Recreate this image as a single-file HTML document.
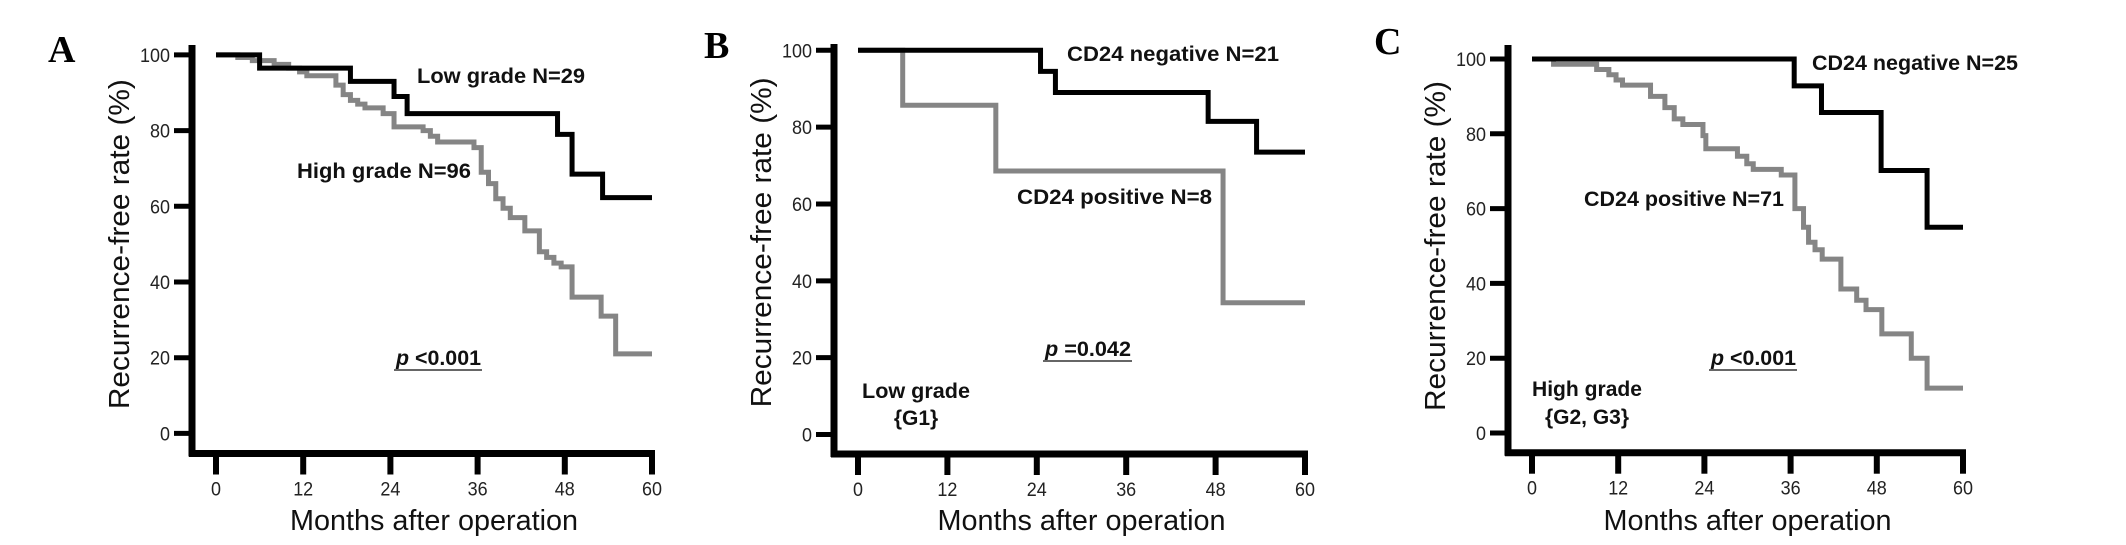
<!DOCTYPE html>
<html><head><meta charset="utf-8">
<style>
html,body{margin:0;padding:0;background:#fff;overflow:hidden;}
svg{display:block;}
text{font-family:"Liberation Sans",Arial,sans-serif;}
</style></head>
<body>
<svg id="fig" width="2126" height="545" viewBox="0 0 2126 545" xmlns="http://www.w3.org/2000/svg"></svg>
<script>
// ---- data ----
const xTicks = [0, 12, 24, 36, 48, 60];
const yTicks = [0, 20, 40, 60, 80, 100];
// Panel A
const aLowMonths  = [0, 6, 18.5, 24.5, 26.3, 47, 49, 53.2, 60];
const aLowRate    = [100, 96.5, 93, 89, 84.5, 79, 68.5, 62.3, 62.3];
const aHighMonths = [0, 3, 5, 8, 10, 11.5, 12.5, 16.5, 17.5, 18.5, 19.5, 20.5, 23, 24.5, 28.5, 29.5, 30.5, 35.5, 36.5, 37.5, 38.5, 39.5, 40.5, 42.5, 44.5, 45.5, 46.5, 47.5, 49, 53, 55, 60];
const aHighRate   = [100, 99.3, 98.5, 97.5, 96.5, 95.5, 94.5, 92, 89.5, 88, 87, 86, 84.5, 81, 80, 78.5, 77, 75.5, 69, 66, 62, 59.5, 57, 53.5, 48, 46.5, 45, 44, 36, 31, 21, 21];
// Panel B
const bNegMonths = [0, 24.5, 26.5, 47, 53.5, 60];
const bNegRate   = [100, 94.5, 89, 81.5, 73.5, 73.5];
const bPosMonths = [0, 6, 18.5, 49, 60];
const bPosRate   = [100, 85.7, 68.6, 34.3, 34.3];
// Panel C
const cNegMonths = [0, 36.5, 40.3, 48.6, 55, 60];
const cNegRate   = [100, 92.8, 85.7, 70.2, 55, 55];
const cPosMonths = [0, 1, 3, 9, 10.7, 11.7, 12.6, 16.5, 18.5, 19.8, 21, 23.8, 24.2, 28.6, 29.9, 30.8, 34.7, 36.6, 37.8, 38.5, 39.4, 40.4, 43, 45.2, 46.5, 48.7, 52.8, 55, 60];
const cPosRate   = [100, 100, 98.6, 97.2, 95.8, 94.4, 93, 90, 87, 84, 82.5, 79.5, 76, 74, 72, 70.5, 69, 60, 55, 51, 49, 46.5, 38.5, 35.5, 33, 26.5, 20, 12, 12];

const NS = "http://www.w3.org/2000/svg";
const svg = document.getElementById('fig');
function mk(tag, attrs, parent) {
  const e = document.createElementNS(NS, tag);
  for (const k in attrs) e.setAttribute(k, attrs[k]);
  (parent || svg).appendChild(e);
  return e;
}
function txt(s, attrs, parent) { const t = mk('text', attrs, parent); t.textContent = s; return t; }

const panels = [
  {id:'a', letter:'A', lx:48, ly:62, axX:192, x0:216, x1:652, y100:54.9, y0:433.4, axY:453.5, yTop:45,
   series:[{m:aHighMonths, r:aHighRate, c:'#858585', n:'high-grade-curve'},{m:aLowMonths, r:aLowRate, c:'#000', n:'low-grade-curve'}],
   notes:[{s:'Low grade  N=29', x:417, y:83, w:168, n:'low-grade-label'},{s:'High grade  N=96', x:297, y:178, w:174, n:'high-grade-label'}],
   p:{s:'p', rest:' <0.001', x:396, y:365, w:85}, sub:null},
  {id:'b', letter:'B', lx:704, ly:58, axX:834, x0:858, x1:1305, y100:50.3, y0:434.5, axY:454, yTop:44,
   series:[{m:bPosMonths, r:bPosRate, c:'#858585', n:'cd24-positive-curve'},{m:bNegMonths, r:bNegRate, c:'#000', n:'cd24-negative-curve'}],
   notes:[{s:'CD24 negative  N=21', x:1067, y:61, w:212, n:'cd24-negative-label'},{s:'CD24 positive  N=8', x:1017, y:204, w:195, n:'cd24-positive-label'}],
   p:{s:'p', rest:' =0.042', x:1045, y:356, w:86}, sub:{a:'Low grade', b:'{G1}', cx:916, y1:398, y2:425, w:108, n:'low-grade-g1-label'}},
  {id:'c', letter:'C', lx:1374, ly:54, axX:1508, x0:1532, x1:1963, y100:59, y0:433, axY:452.7, yTop:45,
   series:[{m:cPosMonths, r:cPosRate, c:'#858585', n:'cd24-positive-curve'},{m:cNegMonths, r:cNegRate, c:'#000', n:'cd24-negative-curve'}],
   notes:[{s:'CD24 negative  N=25', x:1812, y:70, w:206, n:'cd24-negative-label'},{s:'CD24 positive  N=71', x:1584, y:206, w:200, n:'cd24-positive-label'}],
   p:{s:'p', rest:' <0.001', x:1711, y:365, w:85}, sub:{a:'High grade', b:'{G2, G3}', cx:1587, y1:396, y2:424, w:110, n:'high-grade-g2g3-label'}}
];

panels.forEach(P => {
  const g = mk('g', {});
  
  
  const sx = m => P.x0 + (P.x1 - P.x0) * m / 60;
  const sy = v => P.y0 + (P.y100 - P.y0) * v / 100;

  const L = txt(P.letter, {x:P.lx, y:P.ly, 'font-size':38, 'font-weight':'bold', style:'font-family:"Liberation Serif",serif'}, g);
  
  

  const ya = mk('line', {x1:P.axX, y1:P.yTop, x2:P.axX, y2:P.axY+3, stroke:'#000', 'stroke-width':7}, g);
  
  
  const xa = mk('line', {x1:P.axX-3, y1:P.axY, x2:P.x1+3, y2:P.axY, stroke:'#000', 'stroke-width':7}, g);
  
  

  yTicks.forEach(v => {
    const t = mk('line', {x1:P.axX-18, y1:sy(v), x2:P.axX, y2:sy(v), stroke:'#000', 'stroke-width':5}, g);
    
    
    const l = txt(String(v), {x:P.axX-22, y:sy(v)+7, 'font-size':19, 'text-anchor':'end', fill:'#222', textLength: String(v).length*10, lengthAdjust:'spacingAndGlyphs'}, g);
    
    
  });
  xTicks.forEach(m => {
    const t = mk('line', {x1:sx(m), y1:P.axY, x2:sx(m), y2:P.axY+21, stroke:'#000', 'stroke-width':6}, g);
    
    
    const l = txt(String(m), {x:sx(m), y:P.axY+42, 'font-size':19, 'text-anchor':'middle', fill:'#222', textLength: String(m).length*10, lengthAdjust:'spacingAndGlyphs'}, g);
    
    
  });

  const xt = txt('Months after operation', {x:(P.x0+P.x1)/2, y:530, 'font-size':29, 'text-anchor':'middle', fill:'#111', textLength:288, lengthAdjust:'spacingAndGlyphs'}, g);
  
  
  const ycx = P.axX - 63, ycy = (P.y0 + P.y100)/2;
  const yt = txt('Recurrence-free  rate  (%)', {x:0, y:0, 'font-size':29, 'text-anchor':'middle', fill:'#111', textLength:330, lengthAdjust:'spacingAndGlyphs', transform:`translate(${ycx},${ycy}) rotate(-90)`}, g);
  
  

  P.series.forEach(S => {
    let d = `M${sx(S.m[0])},${sy(S.r[0])}`;
    for (let i = 1; i < S.m.length; i++) {
      d += ` H${sx(S.m[i])} V${sy(S.r[i])}`;
    }
    const p = mk('path', {d:d, fill:'none', stroke:S.c, 'stroke-width':5, 'stroke-linejoin':'miter', 'stroke-linecap':'butt'}, g);
    
    
  });

  P.notes.forEach(N => {
    const t = txt(N.s, {x:N.x, y:N.y, 'font-size':21, 'font-weight':'bold', fill:'#111', textLength:N.w, lengthAdjust:'spacingAndGlyphs', 'xml:space':'preserve'}, g);
    
    
  });

  const pt = mk('text', {x:P.p.x, y:P.p.y, 'font-size':21, 'font-weight':'bold', fill:'#111', textLength:P.p.w, lengthAdjust:'spacingAndGlyphs'}, g);
  
  
  const ti = document.createElementNS(NS, 'tspan'); ti.setAttribute('font-style', 'italic'); ti.textContent = P.p.s; pt.appendChild(ti);
  const tr = document.createElementNS(NS, 'tspan'); tr.textContent = P.p.rest; pt.appendChild(tr);
  const ul = mk('line', {x1:P.p.x-2, y1:P.p.y+5, x2:P.p.x+P.p.w+1, y2:P.p.y+5, stroke:'#666', 'stroke-width':2}, g);
  
  

  if (P.sub) {
    const a = txt(P.sub.a, {x:P.sub.cx, y:P.sub.y1, 'font-size':21, 'font-weight':'bold', 'text-anchor':'middle', fill:'#111', textLength:P.sub.w, lengthAdjust:'spacingAndGlyphs'}, g);
    
    
    const b = txt(P.sub.b, {x:P.sub.cx, y:P.sub.y2, 'font-size':21, 'font-weight':'bold', 'text-anchor':'middle', fill:'#111'}, g);
    
    
  }
});
</script>
</body></html>
